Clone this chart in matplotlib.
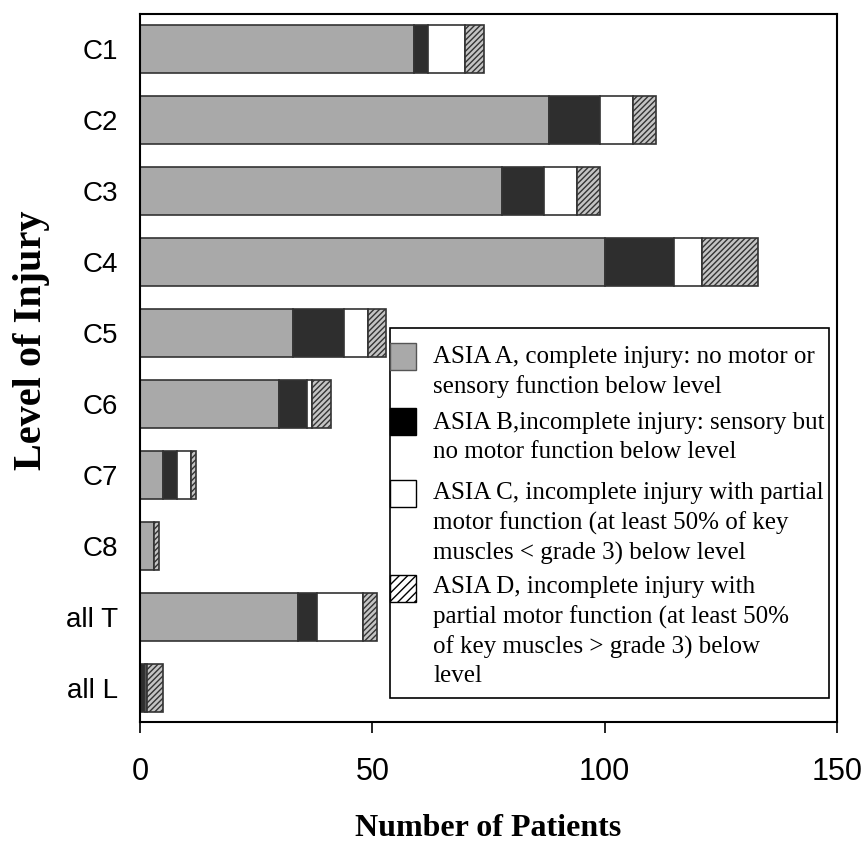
import numpy as np
import matplotlib
matplotlib.use("Agg")
import matplotlib.pyplot as plt
from matplotlib.patches import Rectangle

levels = ["C1", "C2", "C3", "C4", "C5", "C6", "C7", "C8", "all T", "all L"]
asia_a = [59, 88, 78, 100, 33, 30, 5, 3, 34, 0]
asia_b = [3, 11, 9, 15, 11, 6, 3, 0, 4, 1]
asia_c = [8, 7, 7, 6, 5, 1, 3, 0, 10, 0.5]
asia_d = [4, 5, 5, 12, 4, 4, 1, 1, 3, 3.5]

legend_lines = [
    ["ASIA A, complete injury: no motor or", "sensory function below level"],
    ["ASIA B,incomplete injury: sensory but", "no motor function below level"],
    ["ASIA C, incomplete injury with partial",
     "motor function (at least 50% of key",
     "muscles < grade 3) below level"],
    ["ASIA D, incomplete injury with",
     "partial motor function (at least 50%",
     "of key muscles > grade 3) below",
     "level"],
]

plt.rcParams['hatch.color'] = '#3a3a3a'
plt.rcParams['hatch.linewidth'] = 1.0

W, H = 866, 855
fig = plt.figure(figsize=(W / 100, H / 100), dpi=100)
ax = fig.add_axes([140 / W, 1 - 722 / H, (837 - 140) / W, (722 - 14) / H])

y = np.arange(len(levels))
a = np.array(asia_a, dtype=float)
b = np.array(asia_b, dtype=float)
c = np.array(asia_c, dtype=float)
d = np.array(asia_d, dtype=float)
h = 0.67
ax.barh(y, a, height=h, color='#a9a9a9', edgecolor='#333333', linewidth=1.2)
ax.barh(y, b, left=a, height=h, color='#2e2e2e', edgecolor='#333333', linewidth=1.2)
ax.barh(y, c, left=a + b, height=h, color='white', edgecolor='#333333', linewidth=1.2)
ax.barh(y, d, left=a + b + c, height=h, color='#c4c4c4', edgecolor='#333333',
        linewidth=1.2, hatch='//////')

ax.set_xlim(0, 150)
ax.set_ylim(9.48, -0.49)
ax.set_xticks([0, 50, 100, 150])
ax.set_yticks(y)
ax.set_yticklabels(levels, fontsize=20, family='Liberation Sans')
for lab in ax.get_xticklabels():
    lab.set_fontsize(22)
    lab.set_family('Liberation Sans')
ax.tick_params(axis='y', length=0, pad=16)
ax.tick_params(axis='x', length=8, width=1.2, pad=17)
for s in ax.spines.values():
    s.set_linewidth(1.5)

fig.text(488 / W, 1 - 828 / H, "Number of Patients", ha='center', va='center',
         fontsize=23, fontweight='bold', family='Liberation Serif')
fig.text(32 / W, 1 - 340 / H, "Level of Injury", ha='center', va='center',
         rotation=90, fontsize=29, fontweight='bold', family='Liberation Serif')

# legend box drawn by hand so the swatch sits next to the first line
def fx(px):
    return px / W

def fy(py):
    return 1 - py / H

fig.patches.append(Rectangle((fx(390), fy(698)), fx(829) - fx(390), fy(328) - fy(698),
                             transform=fig.transFigure, facecolor='white',
                             edgecolor='black', linewidth=1.2))
swatch_top = [343, 408, 480, 575]
line_y = [[357, 387], [423, 452], [493, 523, 553], [587, 617, 647, 676]]
swatch_style = [
    dict(facecolor='#a9a9a9', edgecolor='#555555'),
    dict(facecolor='black', edgecolor='black'),
    dict(facecolor='white', edgecolor='black'),
    dict(facecolor='white', edgecolor='black', hatch='////'),
]
for top, st, lines, ys in zip(swatch_top, swatch_style, legend_lines, line_y):
    fig.patches.append(Rectangle((fx(390), fy(top + 27)), fx(416) - fx(390), fy(top) - fy(top + 27),
                                 transform=fig.transFigure, linewidth=1.0, **st))
    for ln, yy in zip(lines, ys):
        fig.text(fx(433), fy(yy), ln, ha='left', va='center',
                 fontsize=18, family='Liberation Serif')

fig.savefig("out.png", dpi=100)
